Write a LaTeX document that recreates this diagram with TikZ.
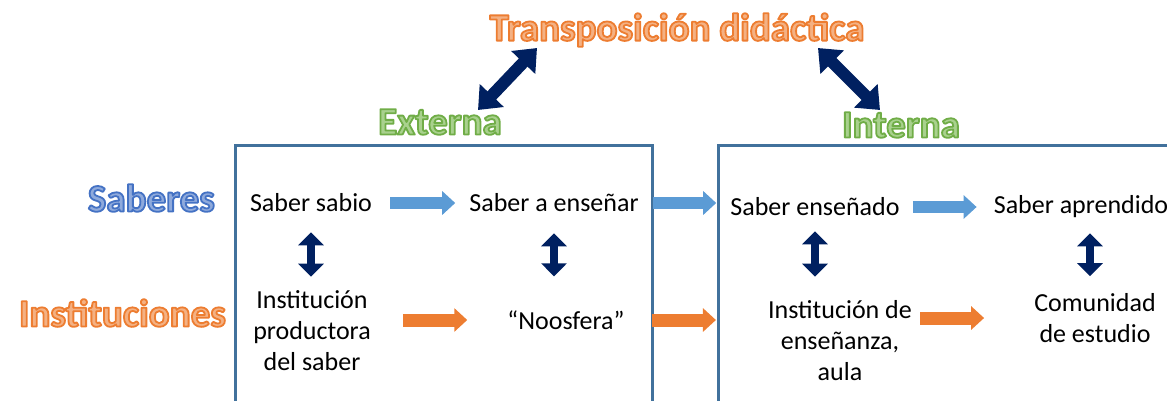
\documentclass[tikz,border=0pt]{standalone}
\usepackage{fontspec}
\setmainfont{Carlito}
\usetikzlibrary{arrows.meta}
\definecolor{marco}{HTML}{41719C}
\definecolor{azulflecha}{HTML}{5B9BD5}
\definecolor{naranja}{HTML}{ED7D31}
\definecolor{naranjaclaro}{HTML}{F4B183}
\definecolor{marino}{HTML}{002060}
\definecolor{verde}{HTML}{70AD47}
\definecolor{verdeclaro}{HTML}{A9D18E}
\definecolor{azultit}{HTML}{4472C4}
\definecolor{azulclaro}{HTML}{8FAADC}
% texto con contorno: relleno claro, trazo oscuro
\newcommand{\realce}[3]{\textcolor{#2}{\special{pdf:literal direct 2 Tr 1.8 w 1 j #1 RG}#3\special{pdf:literal direct 0 Tr}}}

\begin{document}
\begin{tikzpicture}[x=1pt,y=-1pt,
    texto/.style={font=\fontsize{26}{31}\selectfont, align=center, inner sep=0pt},
    titulo/.style={font=\fontsize{39}{46}\selectfont\bfseries, inner sep=0pt},
    caja/.style={draw=marco, line width=3pt},
    flechaazul/.style={draw=azulflecha, line width=12pt, -{Triangle[width=23pt,length=13pt]}},
    flechanaranja/.style={draw=naranja, line width=13pt, -{Triangle[width=23pt,length=13pt]}},
    doble/.style={draw=marino, line width=8pt, {Triangle[width=25pt,length=13pt]}-{Triangle[width=25pt,length=13pt]}},
    dobleancha/.style={draw=marino, line width=12pt, {Triangle[width=32pt,length=20pt]}-{Triangle[width=32pt,length=20pt]}}]
  \useasboundingbox (0,0) rectangle (1167,400);
  \clip (0,0) rectangle (1167,400);

  % marcos
  \draw[caja] (235,145) rectangle (652,420);
  \draw[caja] (718,145) rectangle (1190,420);

  % titulos
  \node[titulo] (trans) at (677,30) {\realce{0.929 0.490 0.192}{naranjaclaro}{Transposición didáctica}};
  \node[titulo] (ext) at (440,122) {\realce{0.439 0.678 0.278}{verdeclaro}{Externa}};
  \node[titulo] (int) at (901,125) {\realce{0.439 0.678 0.278}{verdeclaro}{Interna}};
  \node[titulo, anchor=east] (sab) at (215,198) {\realce{0.267 0.447 0.769}{azulclaro}{Saberes}};
  \node[titulo, anchor=east] (inst) at (226,313) {\realce{0.929 0.490 0.192}{naranjaclaro}{Instituciones}};

  % saberes e instituciones
  \node[texto] (sabio) at (311,203) {Saber sabio};
  \node[texto] (ensenar) at (554,203) {Saber a enseñar};
  \node[texto] (ensenado) at (815,207) {Saber enseñado};
  \node[texto] (aprendido) at (1081,207) {Saber aprendido};
  \node[texto] (prod) at (312,331) {Institución\\productora\\del saber};
  \node[texto] (noos) at (566,320) {“Noosfera”};
  \node[texto] (aula) at (840,341) {Institución de\\enseñanza,\\aula};
  \node[texto] (comu) at (1095,318) {Comunidad\\de estudio};

  \coordinate (tA) at (537,48);
  \coordinate (eA) at (478,110);
  \coordinate (tB) at (818,48);
  \coordinate (iB) at (880,110);
  \draw[dobleancha] (tA) -- (eA);
  \draw[dobleancha] (tB) -- (iB);

  \draw[flechaazul, shorten <=18pt, shorten >=14pt] (sabio) -- (ensenar);
  \draw[flechaazul, shorten <=14pt, shorten >=14pt] (ensenar.east) -- (ensenar.east -| ensenado.west);
  \draw[flechaazul, shorten <=13pt, shorten >=17pt] (ensenado) -- (aprendido);

  \draw[flechanaranja, shorten <=32pt, shorten >=40pt] (prod.east |- noos) -- (noos.west);
  \draw[flechanaranja, shorten <=27pt, shorten >=52pt] (noos.east) -- (noos.east -| aula.west);
  \draw[flechanaranja, shorten <=8pt, shorten >=50pt] (aula.east |- comu) -- (comu.west);

  \draw[doble, shorten <=20pt, shorten >=14pt] (sabio) -- (sabio |- prod.north);
  \draw[doble, shorten <=21pt, shorten >=34pt] (ensenar) -- (ensenar |- noos.north);
  \draw[doble, shorten <=15pt, shorten >=24pt] (ensenado) -- (ensenado |- aula.north);
  \draw[doble, shorten <=15pt, shorten >=17pt] ([xshift=9pt]aprendido.south) -- ([xshift=9pt]aprendido.south |- comu.north);
\end{tikzpicture}
\end{document}
